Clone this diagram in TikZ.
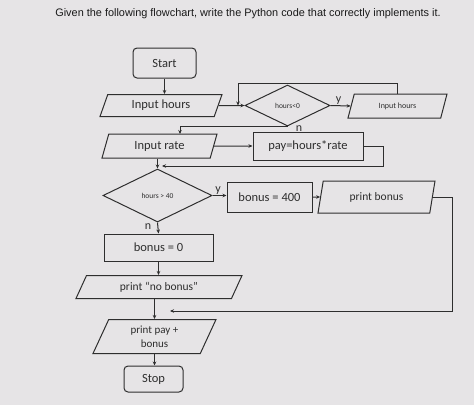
\documentclass[tikz,border=0pt]{standalone}
\usepackage{fontspec}
\setmainfont{Carlito}
\newfontfamily\titlefont{Liberation Sans}
\usetikzlibrary{shapes.geometric,arrows.meta,calc}
\definecolor{ink}{HTML}{2E2E2E}
\definecolor{bg}{HTML}{E6E4E6}
\begin{document}
\begin{tikzpicture}[x=1pt,y=-1pt,
  every node/.style={text=ink},
  line/.style={draw=ink,line width=1pt},
  arr/.style={line,-{Stealth[length=4pt,width=3.5pt]}},
  term/.style={line,rounded corners=4pt,minimum width=#1,inner sep=0pt,font=\fontsize{12.5}{14}\selectfont},
  procbox/.style={line,rectangle,inner sep=0pt,font=\fontsize{12.5}{14}\selectfont},
  iobox/.style={line,trapezium,trapezium stretches body,inner sep=0pt,font=\fontsize{12.5}{14}\selectfont},
  decbox/.style={line,diamond,inner sep=0pt,font=\fontsize{7.5}{9}\selectfont},
  lbl/.style={font=\fontsize{12}{14}\selectfont,inner sep=1pt}
]
\useasboundingbox (0,0) rectangle (474,405);
\fill[bg] (0,0) rectangle (474,405);

\node[font=\titlefont\fontsize{10.9}{12}\selectfont,text=black!90] (title) at (248,14)
  {Given the following flowchart, write the Python code that correctly implements it.};

\node[term=63pt,minimum height=30pt] (start) at (164.5,63) {Start};
\node[iobox,trapezium left angle=54,trapezium right angle=126,minimum width=122pt,minimum height=22pt] (ih) at (161,105.5) {Input hours};
\node[decbox,minimum width=85pt,minimum height=41pt] (d1) at (287.5,105.5) {hours<0};
\node[iobox,trapezium left angle=47.5,trapezium right angle=132.5,minimum width=99pt,minimum height=24pt,font=\fontsize{8}{10}\selectfont] (ih2) at (397.5,106) {Input hours};
\node[iobox,trapezium left angle=56,trapezium right angle=124,minimum width=115pt,minimum height=24pt] (ir) at (159.5,146) {Input rate};
\node[procbox,minimum width=110pt,minimum height=28pt] (pay) at (308,146) {pay=hours*rate};
\node[decbox,minimum width=109pt,minimum height=53pt] (d2) at (157.5,195.5) {hours > 40};
\node[procbox,minimum width=85pt,minimum height=30pt] (b400) at (269.5,197) {bonus = 400};
\node[iobox,trapezium left angle=62,trapezium right angle=118,minimum width=117pt,minimum height=32pt,font=\fontsize{11.5}{13}\selectfont] (pb) at (376.5,197) {print bonus};
\node[procbox,minimum width=109pt,minimum height=27pt] (b0) at (158.5,247.5) {bonus = 0};
\node[iobox,trapezium left angle=44,trapezium right angle=136,minimum width=166pt,minimum height=23pt,font=\fontsize{11.5}{13}\selectfont] (pnb) at (159,287) {print “no bonus”};
\node[iobox,trapezium left angle=54,trapezium right angle=126,minimum width=123pt,minimum height=34pt,font=\fontsize{11}{14}\selectfont,align=center] (ppb) at (154.5,336.5) {print pay +\\bonus};
\node[term=59pt,minimum height=26pt] (stop) at (153.5,379) {Stop};

\coordinate (j1) at (238,105.5);
\coordinate (irtop) at (180,134);
\coordinate (j3) at (162,166);
\coordinate (j4) at (170,311);

\draw[arr] (start.south) -- (start.south |- ih.north);
\draw[arr] (ih.east) -- (d1.west);
\draw[arr] (ih2.north) -- ++(0,-10) -| (j1);
\draw[arr] (d1.east) -- node[lbl,above,pos=0.4] {y} (ih2.west);
\draw[arr] (d1.south) -| (irtop);
\node[lbl] (n1) at (299,129) {n};
\draw[arr] (ir.east) -- (pay.west);
\draw[arr] (pay.east) -- ++(20,0) |- (j3);
\draw[arr] (d2.north |- ir.south) -- (d2.north);
\draw[arr] (d2.east) -- node[lbl,above,pos=0.4] {y} (d2.east -| b400.west);
\draw[arr] (b400.east) -- (pb.west);
\draw[arr] (pb.east) -- ++(20,0) |- (j4);
\draw[arr] (d2.south) -- (b0.north);
\node[lbl] (n2) at (148,227) {n};
\draw[arr] (b0.south) -- (b0.south |- pnb.north);
\draw[arr] (ppb.north |- pnb.south) -- (ppb.north);
\draw[arr] (ppb.south) -- (ppb.south |- stop.north);
\end{tikzpicture}
\end{document}
